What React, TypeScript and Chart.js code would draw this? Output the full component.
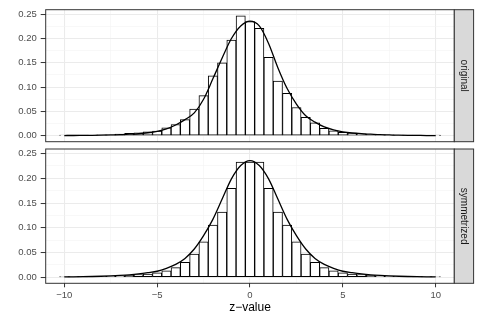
import React, { useEffect, useRef } from "react";
import { Chart, registerables } from "chart.js";

Chart.register(...registerables);

// ---- data ----
const binCenters = [
  -10, -9.5, -9, -8.5, -8, -7.5, -7, -6.5, -6, -5.5, -5, -4.5, -4, -3.5, -3, -2.5, -2, -1.5, -1, -0.5,
  0, 0.5, 1, 1.5, 2, 2.5, 3, 3.5, 4, 4.5, 5, 5.5, 6, 6.5, 7, 7.5, 8, 8.5, 9, 9.5, 10,
];
const originalHeights = [
  0.0004, 0.0005, 0.0008, 0.001, 0.0015, 0.002, 0.0033, 0.0047, 0.006, 0.008, 0.0094, 0.016, 0.023, 0.033, 0.0546, 0.0825, 0.123, 0.15, 0.197, 0.247,
  0.235, 0.221, 0.1615, 0.1125, 0.087, 0.058, 0.038, 0.0267, 0.015, 0.01, 0.007, 0.0053, 0.004, 0.0027, 0.002, 0.0015, 0.001, 0.0008, 0.0005, 0.0003, 0.0002,
];
const symmetrizedHeights = [
  0.0003, 0.0004, 0.0006, 0.0009, 0.0012, 0.0018, 0.0027, 0.0037, 0.005, 0.0065, 0.009, 0.0128, 0.0192, 0.0302, 0.0466, 0.0714, 0.1055, 0.1315, 0.18, 0.233,
  0.233, 0.233, 0.18, 0.1315, 0.1055, 0.0714, 0.0466, 0.0302, 0.0192, 0.0128, 0.009, 0.0065, 0.005, 0.0037, 0.0027, 0.0018, 0.0012, 0.0009, 0.0006, 0.0004, 0.0003,
];
const curveX = binCenters;
const originalCurve = [
  0.0003, 0.0004, 0.0006, 0.0008, 0.0011, 0.0015, 0.002, 0.003, 0.004, 0.006, 0.009, 0.014, 0.022, 0.033, 0.047, 0.075, 0.117, 0.16, 0.2, 0.226,
  0.236, 0.226, 0.19, 0.14, 0.097, 0.065, 0.041, 0.028, 0.018, 0.012, 0.008, 0.0055, 0.004, 0.003, 0.002, 0.0015, 0.001, 0.0007, 0.0005, 0.0003, 0.0002,
];
const symmetrizedCurve = [
  0.0005, 0.0007, 0.001, 0.0014, 0.0019, 0.0026, 0.0035, 0.0047, 0.0065, 0.009, 0.012, 0.018, 0.026, 0.038, 0.057, 0.084, 0.117, 0.158, 0.199, 0.226,
  0.236, 0.226, 0.199, 0.158, 0.117, 0.084, 0.057, 0.038, 0.026, 0.018, 0.012, 0.009, 0.0065, 0.0047, 0.0035, 0.0026, 0.0019, 0.0014, 0.001, 0.0007, 0.0005,
];
const xTickValues = [-10, -7.5, -5, -2.5, 0, 2.5, 5, 7.5, 10];
const xMajorTicks = [-10, -5, 0, 5, 10];
const yTickValues = [0, 0.025, 0.05, 0.075, 0.1, 0.125, 0.15, 0.175, 0.2, 0.225, 0.25];
const yMajorTicks = [0, 0.05, 0.1, 0.15, 0.2, 0.25];
const panelLabels = ["original", "symmetrized"];
const xTitle = "z\u2212value";

// ---- layout / style ----
const W = 480;
const H = 320;
const PANEL_LEFT = 45.7;
const PANEL_RIGHT = 454.3;
const STRIP_W = 19.3;
const PANELS = [
  { top: 6, bottom: 141.7 },
  { top: 149, bottom: 283.3 },
];
const FONT = "'Liberation Sans', Arial, Helvetica, sans-serif";

const isMajor = (v: number, list: number[]) => list.some((m) => Math.abs(m - v) < 1e-9);

const fmtX = (v: number) => (v < 0 ? "\u2212" + Math.abs(v) : String(v));

function makeConfig(heights: number[], curve: number[], label: string, bottom: boolean, panel: { top: number; bottom: number }) {
  const stripPlugin = {
    id: "panelDecor",
    afterDraw(chart: any) {
      const { ctx, chartArea } = chart;
      const { left, right, top, bottom: b } = chartArea;
      ctx.save();
      // panel border
      ctx.strokeStyle = "#333333";
      ctx.lineWidth = 1;
      ctx.strokeRect(left, top, right - left, b - top);
      // strip
      ctx.fillStyle = "#D9D9D9";
      ctx.fillRect(right, top, STRIP_W, b - top);
      ctx.strokeRect(right, top, STRIP_W, b - top);
      ctx.fillStyle = "#1A1A1A";
      ctx.font = `10px ${FONT}`;
      ctx.textAlign = "center";
      ctx.textBaseline = "middle";
      ctx.translate(right + STRIP_W / 2, (top + b) / 2);
      ctx.rotate(Math.PI / 2);
      ctx.fillText(label, 0, 0);
      ctx.restore();
    },
  };

  return {
    type: "bar",
    data: {
      datasets: [
        {
          type: "line",
          data: curveX.map((x, i) => ({ x, y: curve[i] })),
          borderColor: "#000000",
          borderWidth: 1.3,
          pointRadius: 0,
          cubicInterpolationMode: "monotone",
          fill: false,
          order: 0,
        },
        {
          type: "bar",
          data: binCenters.map((x, i) => ({ x, y: heights[i] })),
          backgroundColor: "#FFFFFF",
          borderColor: "#000000",
          borderWidth: 1,
          borderSkipped: false,
          barPercentage: 1,
          categoryPercentage: 1,
          order: 1,
        },
      ],
    },
    options: {
      animation: false,
      responsive: false,
      maintainAspectRatio: false,
      devicePixelRatio: 1,
      layout: {
        padding: {
          left: 0,
          top: panel.top,
          right: W - PANEL_RIGHT,
          bottom: bottom ? 0 : H - panel.bottom,
        },
      },
      plugins: {
        legend: { display: false },
        tooltip: { enabled: false },
        title: { display: false },
      },
      scales: {
        x: {
          type: "linear",
          offset: false,
          min: -11,
          max: 11,
          afterBuildTicks: (s: any) => {
            s.ticks = xTickValues.map((value) => ({ value }));
          },
          afterFit: (s: any) => {
            s.height = bottom ? H - panel.bottom : 0;
          },
          border: { display: false },
          grid: {
            offset: false,
            drawTicks: bottom,
            tickLength: 4,
            color: (c: any) => (c.tick && isMajor(c.tick.value, xMajorTicks) ? "#EBEBEB" : "#F2F2F2"),
            lineWidth: (c: any) => (c.tick && isMajor(c.tick.value, xMajorTicks) ? 1.07 : 0.55),
            tickColor: (c: any) => (c.tick && isMajor(c.tick.value, xMajorTicks) ? "#333333" : "rgba(0,0,0,0)"),
            tickWidth: 1,
          },
          ticks: {
            display: bottom,
            autoSkip: false,
            maxRotation: 0,
            padding: 2,
            color: "#4D4D4D",
            font: { family: FONT, size: 9.5 },
            callback: (v: any) => (isMajor(Number(v), xMajorTicks) ? fmtX(Number(v)) : ""),
          },
          title: {
            display: bottom,
            text: xTitle,
            color: "#000000",
            font: { family: FONT, size: 12 },
            padding: { top: 0, bottom: 5 },
          },
        },
        y: {
          type: "linear",
          min: -0.0124,
          max: 0.2594,
          afterBuildTicks: (s: any) => {
            s.ticks = yTickValues.map((value) => ({ value }));
          },
          afterFit: (s: any) => {
            s.width = PANEL_LEFT;
          },
          border: { display: false },
          grid: {
            drawTicks: true,
            tickLength: 5,
            color: (c: any) => (c.tick && isMajor(c.tick.value, yMajorTicks) ? "#EBEBEB" : "#F2F2F2"),
            lineWidth: (c: any) => (c.tick && isMajor(c.tick.value, yMajorTicks) ? 1.07 : 0.55),
            tickColor: (c: any) => (c.tick && isMajor(c.tick.value, yMajorTicks) ? "#333333" : "rgba(0,0,0,0)"),
            tickWidth: 1,
          },
          ticks: {
            autoSkip: false,
            padding: 4,
            color: "#4D4D4D",
            font: { family: FONT, size: 9.5 },
            callback: (v: any) => (isMajor(Number(v), yMajorTicks) ? Number(v).toFixed(2) : ""),
          },
        },
      },
    },
    plugins: [stripPlugin],
  };
}

export default function App() {
  const ref1 = useRef<HTMLCanvasElement | null>(null);
  const ref2 = useRef<HTMLCanvasElement | null>(null);

  useEffect(() => {
    const c1 = new Chart(ref1.current as HTMLCanvasElement, makeConfig(originalHeights, originalCurve, panelLabels[0], false, PANELS[0]) as any);
    const c2 = new Chart(ref2.current as HTMLCanvasElement, makeConfig(symmetrizedHeights, symmetrizedCurve, panelLabels[1], true, PANELS[1]) as any);
    return () => {
      c1.destroy();
      c2.destroy();
    };
  }, []);

  const canvasStyle: React.CSSProperties = { position: "absolute", left: 0, top: 0, width: W, height: H };
  return (
    <div style={{ position: "absolute", left: 0, top: 0, width: W, height: H, background: "#FFFFFF" }}>
      <canvas ref={ref1} width={W} height={H} style={canvasStyle} />
      <canvas ref={ref2} width={W} height={H} style={canvasStyle} />
    </div>
  );
}
